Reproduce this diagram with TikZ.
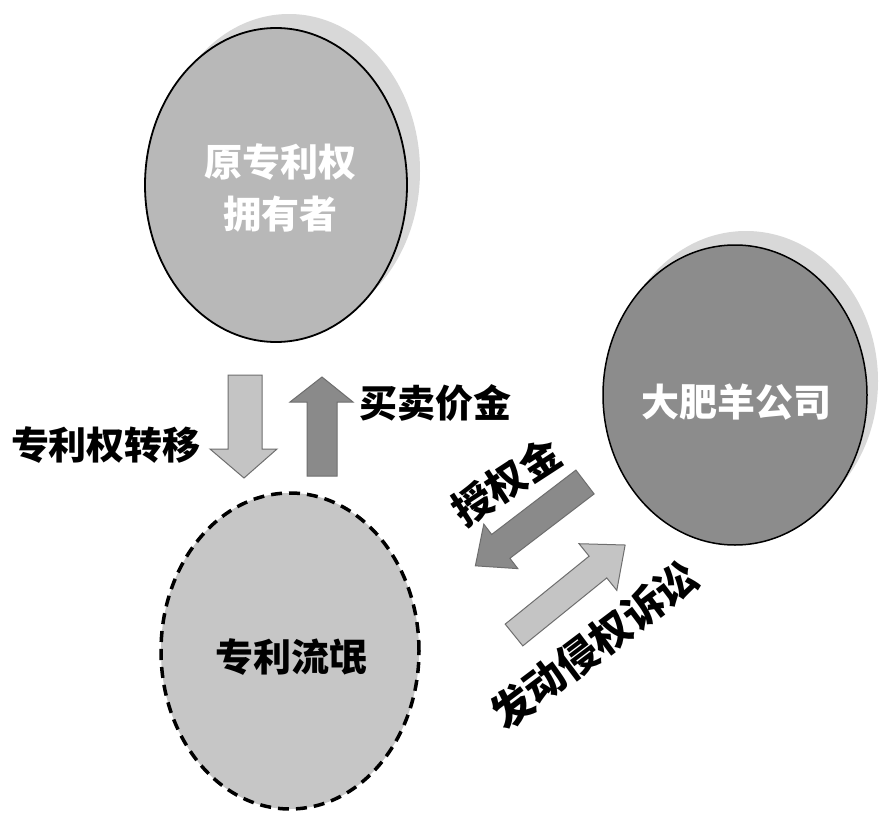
\documentclass[tikz,border=0pt]{standalone}
\usepackage{fontspec}
\newfontfamily\cjk{Noto Sans CJK SC}
\usetikzlibrary{shapes.geometric}
\definecolor{shadowgray}{HTML}{D8D8D8}
\definecolor{ownergray}{HTML}{B8B8B8}
\definecolor{companygray}{HTML}{8C8C8C}
\definecolor{trollgray}{HTML}{C6C6C6}
\definecolor{lightarrow}{HTML}{C4C4C4}
\definecolor{darkarrow}{HTML}{8A8A8A}
\definecolor{arrowedge}{HTML}{6E6E6E}
\begin{document}
\begin{tikzpicture}[x=1pt,y=-1pt,
  circ/.style={ellipse, draw=black, line width=1.8pt, inner sep=0pt},
  shadowc/.style={ellipse, fill=shadowgray, inner sep=0pt},
  lbl/.style={font=\cjk\bfseries\fontsize{38}{40}\selectfont, text=black, inner sep=0pt},
  inlbl/.style={font=\cjk\bfseries\fontsize{38}{52}\selectfont, text=white, align=center, inner sep=0pt},
  blockarrow/.style={draw=arrowedge, line width=1pt, line join=miter}
]
\useasboundingbox[fill=white] (0,0) rectangle (892,819);

% shadows
\node[shadowc, minimum width=262pt, minimum height=314pt] (ownershadow) at (289,171) {};
\node[shadowc, minimum width=264pt, minimum height=300pt] (companyshadow) at (746,381) {};

% circles
\node[circ, fill=ownergray, minimum width=262pt, minimum height=314pt] (owner) at (276,185) {};
\node[inlbl] (ownertext) at (280,188) {原专利权\\拥有者};

\node[circ, fill=companygray, line width=1.5pt, minimum width=264pt, minimum height=300pt] (company) at (735,395) {};
\node[inlbl] (companytext) at (736,402) {大肥羊公司};

\node[ellipse, fill=trollgray, draw=black, line width=3.5pt, dash pattern=on 11pt off 7pt, inner sep=0pt, minimum width=258pt, minimum height=316pt] (troll) at (290,651) {};
\node[lbl] (trolltext) at (291,657) {专利流氓};

% vertical block arrows
\draw[blockarrow, fill=lightarrow] (228,375) -- (262,375) -- (262,449) -- (277,449) -- (244,478) -- (210,449) -- (228,449) -- cycle;
\draw[blockarrow, fill=darkarrow] (307,476) -- (307,402) -- (290,402) -- (322,377) -- (353,402) -- (337,402) -- (337,476) -- cycle;

\node[lbl] (transfer) at (106,445) {专利权转移};
\node[lbl] (price) at (435,403) {买卖价金};

% diagonal block arrows
\begin{scope}[shift={(585,482)}, rotate=217.4]
  \draw[blockarrow, fill=darkarrow] (0,-15) -- (106,-15) -- (106,-28) -- (138,0) -- (106,28) -- (106,15) -- (0,15) -- cycle;
\end{scope}
\begin{scope}[shift={(514,635)}, rotate=39]
  \draw[blockarrow, fill=lightarrow] (0,-14) -- (108,-14) -- (108,-30) -- (143,0) -- (108,30) -- (108,14) -- (0,14) -- cycle;
\end{scope}

\node[lbl, font=\cjk\bfseries\fontsize{40}{42}\selectfont, rotate=33] (license) at (506,482) {授权金};
\node[lbl, font=\cjk\bfseries\fontsize{41}{43}\selectfont, rotate=37] (lawsuit) at (594,645) {发动侵权诉讼};
\end{tikzpicture}
\end{document}
